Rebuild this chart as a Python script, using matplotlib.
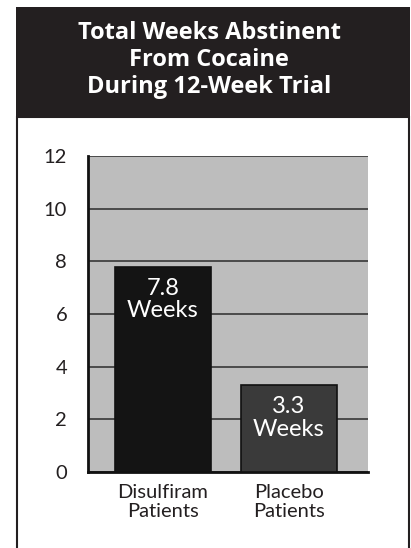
import matplotlib
matplotlib.use('Agg')
from matplotlib import pyplot as plt
from matplotlib.patches import Rectangle

# data
categories = ['Disulfiram\nPatients', 'Placebo\nPatients']
weeks = [7.8, 3.3]
bar_labels = ['7.8\nWeeks', '3.3\nWeeks']
yticks = [0, 2, 4, 6, 8, 10, 12]
title = 'Total Weeks Abstinent\nFrom Cocaine\nDuring 12-Week Trial'

W, H = 411, 548
plt.rcParams['font.family'] = ['Lato', 'DejaVu Sans']

fig = plt.figure(figsize=(W / 100, H / 100), dpi=100)

def fx(px):
    return px / W

def fy(py):
    return 1 - py / H

# black title box and white framed panel (behind the axes)
fig.add_artist(Rectangle((fx(16), fy(117)), fx(394), 110 / H, transform=fig.transFigure,
                         facecolor='#231f20', edgecolor='none', zorder=-2))
fig.add_artist(Rectangle((fx(17), fy(560)), fx(392), 443 / H, transform=fig.transFigure,
                         facecolor='white', edgecolor='#231f20', linewidth=1.5, zorder=-2))
fig.text(fx(209), fy(60), title, ha='center', va='center', color='white',
         fontsize=17, fontweight='bold', linespacing=1.14, family=['Open Sans', 'DejaVu Sans'])

ax = fig.add_axes([fx(88), fy(472), fx(280), 316 / H])
ax.set_facecolor('#bdbdbd')
x = [0, 1]
ax.bar(x, weeks, width=0.76, color=['#141414', '#3a3a3a'], edgecolor='#111111',
       linewidth=1.2, zorder=3)

for xi, v, lab in zip(x, weeks, bar_labels):
    ax.text(xi, v - 0.42, lab, ha='center', va='top', color='white', fontsize=17,
            linespacing=1.1, zorder=4)

ax.set_xlim(-0.595, 1.627)
ax.set_ylim(0, 12)
ax.set_yticks(yticks)
ax.set_xticks(x)
ax.set_xticklabels(categories, linespacing=1.1, fontsize=15)
ax.yaxis.grid(True, color='#4a4a4a', linewidth=1.4, zorder=1)
ax.set_axisbelow(True)
ax.tick_params(length=0, labelsize=14.5, colors='#231f20')
ax.tick_params(axis='y', pad=15)
ax.tick_params(axis='x', pad=9)
for s in ['top', 'right']:
    ax.spines[s].set_visible(False)
ax.spines['left'].set_linewidth(2)
ax.spines['bottom'].set_linewidth(2)
ax.spines['left'].set_color('#111111')
ax.spines['bottom'].set_color('#111111')

plt.savefig('out.png', dpi=100)
